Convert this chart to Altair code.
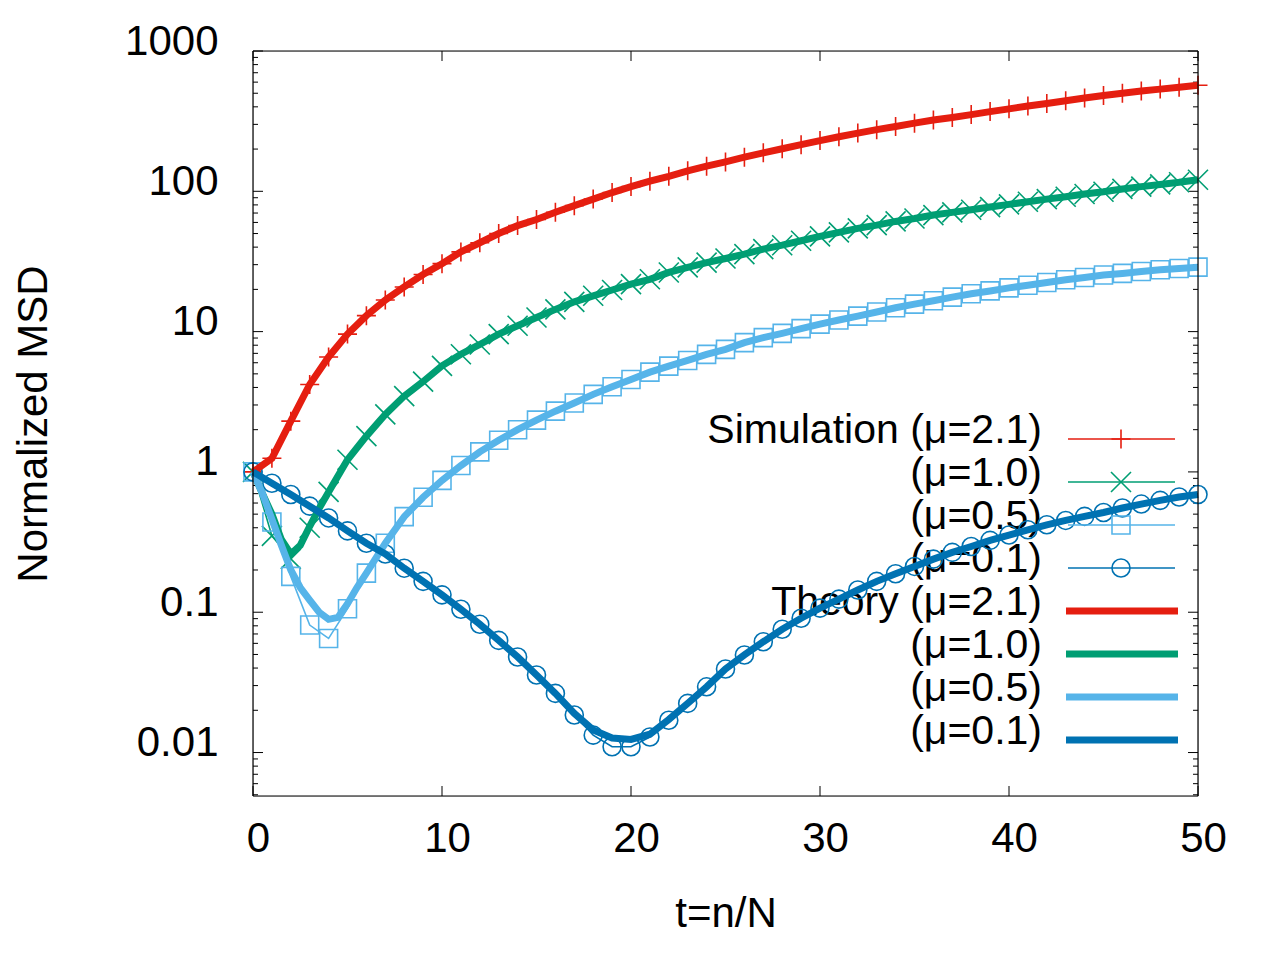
import altair as alt
import pandas as pd

# ---------------- data ----------------
t_sim = list(range(51))

sim_mu21 = [1.0, 1.25, 2.3, 4.2, 6.6, 9.6, 13.0, 16.8, 20.8, 25.5,
            30.5, 37, 43, 50, 57, 63, 71, 79, 88, 98,
            108, 118, 128, 140, 151, 162, 175, 188, 201, 215,
            230, 245, 260, 275, 290, 306, 322, 336, 352, 370,
            387, 405, 423, 442, 462, 482, 500, 518, 535, 552, 570]

sim_mu10 = [1.0, 0.35, 0.24, 0.40, 0.72, 1.22, 1.8, 2.57, 3.47, 4.4,
            5.7, 6.9, 8.1, 9.6, 11.0, 12.6, 14.4, 16.3, 18.0, 19.8,
            21.8, 23.6, 26.4, 28.7, 31.0, 33.2, 35.7, 38.7, 41.3, 44.4,
            47.7, 51, 54.4, 57.4, 61, 64, 67.7, 70.8, 73.9, 77.2,
            80.7, 84.3, 88, 91.5, 95.6, 99.3, 104, 108, 112, 116, 121]

sim_mu05 = [1.0, 0.44, 0.18, 0.081, 0.065, 0.106, 0.19, 0.31, 0.48, 0.66,
            0.87, 1.11, 1.39, 1.68, 2.0, 2.34, 2.71, 3.1, 3.57, 4.05,
            4.56, 5.14, 5.68, 6.23, 6.88, 7.47, 8.35, 9.06, 9.72, 10.5,
            11.3, 12.1, 12.9, 13.8, 14.8, 15.7, 16.6, 17.6, 18.6, 19.5,
            20.5, 21.4, 22.4, 23.4, 24.3, 25.3, 26.0, 26.8, 27.6, 28.2, 28.8]

sim_mu01 = [1.0, 0.83, 0.69, 0.57, 0.47, 0.38, 0.31, 0.26, 0.206, 0.166,
            0.133, 0.105, 0.082, 0.063, 0.048, 0.0357, 0.0264, 0.0185, 0.0133, 0.011,
            0.011, 0.0129, 0.017, 0.0224, 0.0294, 0.0394, 0.0496, 0.0616, 0.0756, 0.0906,
            0.107, 0.124, 0.144, 0.166, 0.188, 0.212, 0.239, 0.267, 0.294, 0.325,
            0.355, 0.387, 0.42, 0.451, 0.482, 0.514, 0.553, 0.59, 0.627, 0.663, 0.69]

# theory curves
t_th21 = t_sim
th_mu21 = sim_mu21

t_th10 = [0, 0.5, 1, 1.5, 2, 2.5, 3, 3.5, 4] + list(range(5, 51))
th_mu10 = [1.0, 0.7, 0.5, 0.33, 0.26, 0.3, 0.41, 0.55, 0.72] + sim_mu10[5:]

t_th05 = [0, 0.5, 1, 1.5, 2, 2.5, 3, 3.5, 4, 4.5, 5, 5.5, 6] + list(range(7, 51))
th_mu05 = [1.0, 0.7, 0.46, 0.3, 0.2, 0.15, 0.122, 0.1, 0.089, 0.092, 0.115, 0.15, 0.19] + sim_mu05[7:]

t_th01 = t_sim
th_mu01 = (sim_mu01[:17] + [0.019, 0.0145, 0.0127, 0.0124, 0.0135, 0.0172] + sim_mu01[23:])

colors = ["#e51e10", "#009e73", "#56b4e9", "#0072b2"]
legend_labels = ["Simulation (\u03bc=2.1)", "(\u03bc=1.0)", "(\u03bc=0.5)", "(\u03bc=0.1)",
                 "Theory (\u03bc=2.1)", "(\u03bc=1.0)", "(\u03bc=0.5)", "(\u03bc=0.1)"]

x_ticks = [0, 10, 20, 30, 40, 50]
y_ticks = [0.01, 0.1, 1, 10, 100, 1000]
y_minor = [k * 10.0 ** e for e in range(-3, 3) for k in range(2, 10) if k * 10.0 ** e >= 0.005]

# ---------------- styling ----------------
FONT = "Liberation Sans"
FS = 42
LFS = 41
W, H = 945, 745

PLUS = "M-1,0L1,0M0,-1L0,1"
CROSS = "M-1,-1L1,1M-1,1L1,-1"
shapes = [PLUS, CROSS, "square", "circle"]
sizes = [361, 400, 324, 324]

x_scale = alt.Scale(domain=[0, 50], nice=False, zero=False)
y_scale = alt.Scale(type="log", domain=[0.0049, 1000], nice=False)

x_axis = alt.Axis(values=x_ticks, format="d", ticks=False, tickSize=0, domain=False, grid=False,
                  labelFontSize=FS, labelFont=FONT, labelColor="black", labelPadding=55,
                  labelBaseline="alphabetic", labelOffset=5, labelFlush=False,
                  title="t=n/N", titleFontSize=FS, titleFont=FONT, titleFontWeight="normal",
                  titleColor="black", titleBaseline="alphabetic", titleY=130)
y_axis = alt.Axis(values=y_ticks, format="~g", ticks=False, tickSize=0, domain=False, grid=False,
                  labelFontSize=FS, labelFont=FONT, labelColor="black", labelPadding=35,
                  labelBaseline="alphabetic", labelOffset=3, labelFlush=False,
                  title="Normalized MSD", titleFontSize=FS, titleFont=FONT, titleFontWeight="normal",
                  titleColor="black", titleBaseline="alphabetic", titleAngle=270,
                  titleX=-207, titleY=H / 2, titleAlign="center")

X = alt.X("t:Q", scale=x_scale, axis=x_axis)
Y = alt.Y("v:Q", scale=y_scale, axis=y_axis)

# ---------------- frame and tick marks (inward, mirrored) ----------------
ymaj = pd.DataFrame({"v": y_ticks})
ymin = pd.DataFrame({"v": y_minor})
xmaj = pd.DataFrame({"t": x_ticks})
frame_df = pd.DataFrame({"side": ["frame"]})

frame_layers = [
    alt.Chart(frame_df).mark_rule(color="black", strokeWidth=1.2).encode(
        x=alt.value(0), x2=alt.value(W), y=alt.value(0)),
    alt.Chart(frame_df).mark_rule(color="black", strokeWidth=1.2).encode(
        x=alt.value(0), x2=alt.value(W), y=alt.value(H)),
    alt.Chart(frame_df).mark_rule(color="black", strokeWidth=1.2).encode(
        y=alt.value(0), y2=alt.value(H), x=alt.value(0)),
    alt.Chart(frame_df).mark_rule(color="black", strokeWidth=1.2).encode(
        y=alt.value(0), y2=alt.value(H), x=alt.value(W)),
]

tick_layers = [
    alt.Chart(ymaj).mark_rule(color="black", strokeWidth=1).encode(y=Y, x=alt.value(0), x2=alt.value(10)),
    alt.Chart(ymaj).mark_rule(color="black", strokeWidth=1).encode(y=Y, x=alt.value(W - 10), x2=alt.value(W)),
    alt.Chart(ymin).mark_rule(color="black", strokeWidth=1).encode(y=Y, x=alt.value(0), x2=alt.value(5)),
    alt.Chart(ymin).mark_rule(color="black", strokeWidth=1).encode(y=Y, x=alt.value(W - 5), x2=alt.value(W)),
    alt.Chart(xmaj).mark_rule(color="black", strokeWidth=1).encode(x=X, y=alt.value(H - 10), y2=alt.value(H)),
    alt.Chart(xmaj).mark_rule(color="black", strokeWidth=1).encode(x=X, y=alt.value(0), y2=alt.value(10)),
]

# ---------------- curves ----------------
sims = [sim_mu21, sim_mu10, sim_mu05, sim_mu01]
theories = [(t_th21, th_mu21), (t_th10, th_mu10), (t_th05, th_mu05), (t_th01, th_mu01)]

sim_layers = []
for vals, col, shp, sz in zip(sims, colors, shapes, sizes):
    d = pd.DataFrame({"t": t_sim, "v": vals})
    base = alt.Chart(d).encode(x=X, y=Y)
    sim_layers.append(base.mark_line(color=col, strokeWidth=1.6))
    sim_layers.append(base.mark_point(shape=shp, size=sz, filled=False, color=col,
                                      strokeWidth=1.6, opacity=1))

theory_layers = []
for (tt, vals), col in zip(theories, colors):
    d = pd.DataFrame({"t": tt, "v": vals})
    theory_layers.append(alt.Chart(d).mark_line(color=col, strokeWidth=7).encode(x=X, y=Y))

data_layer = alt.layer(*tick_layers, *sim_layers, *theory_layers, *frame_layers)

# ---------------- key (gnuplot style: text left, sample right) ----------------
leg = pd.DataFrame({
    "row": list(range(8)),
    "label": legend_labels,
    "color": colors + colors,
    "kind": ["sim"] * 4 + ["theory"] * 4,
    "shape": shapes + ["circle"] * 4,
    "size": sizes + [0] * 4,
})
LY = alt.Y("row:Q", scale=alt.Scale(domain=[0, 7], range=[388, 689]), axis=None)

leg_text = alt.Chart(leg).mark_text(align="right", baseline="alphabetic", dy=4, fontSize=LFS,
                                    font=FONT, color="black").encode(
    x=alt.value(789), y=LY, text="label:N")

leg_sim_lines = alt.Chart(leg).transform_filter(alt.datum.kind == "sim").mark_rule(
    strokeWidth=1.6, strokeCap="butt").encode(
    x=alt.value(815), x2=alt.value(922), y=LY, color=alt.Color("color:N", scale=None))
leg_th_lines = alt.Chart(leg).transform_filter(alt.datum.kind == "theory").mark_rule(
    strokeWidth=7, strokeCap="butt").encode(
    x=alt.value(813), x2=alt.value(925), y=LY, color=alt.Color("color:N", scale=None))
leg_marks = alt.Chart(leg).transform_filter(alt.datum.kind == "sim").mark_point(
    filled=False, strokeWidth=1.6, opacity=1).encode(
    x=alt.value(868), y=LY,
    color=alt.Color("color:N", scale=None),
    shape=alt.Shape("shape:N", scale=None),
    size=alt.Size("size:Q", scale=None))

legend_layer = alt.layer(leg_sim_lines, leg_th_lines, leg_marks)

chart = alt.layer(leg_text, data_layer, legend_layer).resolve_scale(y="independent").properties(
    width=W, height=H,
    padding={"left": 245, "top": 43, "right": 30, "bottom": 150},
    autosize=alt.AutoSizeParams(type="none"),
    background="white",
).configure_view(stroke="black", strokeWidth=1).configure(font=FONT)

chart.save("out.html", embed_options={"renderer": "svg", "actions": False})
